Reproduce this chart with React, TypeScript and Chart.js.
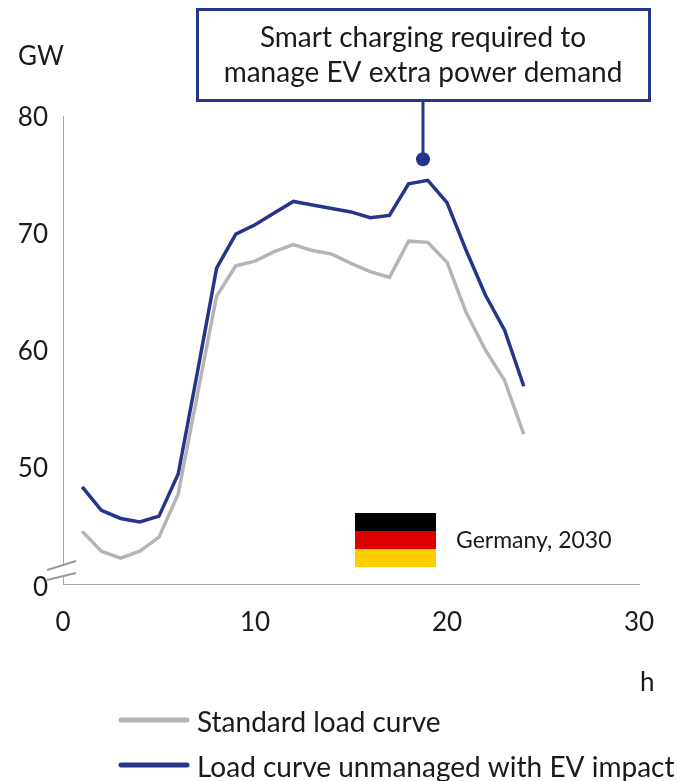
import React, { useEffect, useRef } from "react";
import { Chart, registerables } from "chart.js";

Chart.register(...registerables);

const hours = [1, 2, 3, 4, 5, 6, 7, 8, 9, 10, 11, 12, 13, 14, 15, 16, 17, 18, 19, 20, 21, 22, 23, 24];
const standardLoad = [44.5, 42.8, 42.2, 42.8, 44.0, 47.7, 56.2, 64.6, 67.2, 67.6, 68.4, 69.0, 68.5, 68.2, 67.4, 66.7, 66.2, 69.3, 69.2, 67.5, 63.2, 60.0, 57.4, 52.8];
const evLoad = [48.3, 46.3, 45.6, 45.3, 45.8, 49.4, 58.1, 67.0, 69.9, 70.7, 71.7, 72.7, 72.4, 72.1, 71.8, 71.3, 71.5, 74.2, 74.5, 72.6, 68.5, 64.7, 61.7, 56.9];
const seriesNames = ["Standard load curve", "Load curve unmanaged with EV impact"];
const calloutLines = ["Smart charging required to", "manage EV extra power demand"];
const calloutPoint = { x: 18.75, y: 76.3 };
const flagColors = ["#000000", "#dd0000", "#ffce00"];
const flagCaption = "Germany, 2030";
const yUnit = "GW";
const xUnit = "h";

const NAVY = "#26358a";
const GREY = "#b5b5b5";
const AXIS = "#a6a6a6";
const FONT = "Lato, Carlito, sans-serif";
const TEXT = "#1a1a1a";

const overlay = {
  id: "overlay",
  beforeDraw(chart: any) {
    // Lato sits a little high for its middle baseline: nudge the y labels.
    chart.scales.y.getLabelItems(chart.chartArea).forEach((item: any) => {
      item.options.translation[1] += item.label === "0" ? 4 : 2;
    });
  },
  beforeDatasetsDraw(chart: any) {
    const { ctx } = chart;
    ctx.save();
    ctx.fillStyle = "#ffffff";
    ctx.fillRect(60, 566, 6, 9);
    ctx.strokeStyle = "#9a9a9a";
    ctx.lineWidth = 2;
    ctx.beginPath();
    ctx.moveTo(47, 570);
    ctx.lineTo(76, 561);
    ctx.moveTo(47, 580);
    ctx.lineTo(76, 573);
    ctx.stroke();
    ctx.restore();
  },
  afterDraw(chart: any) {
    const { ctx, scales } = chart;
    ctx.save();
    ctx.textBaseline = "middle";
    ctx.fillStyle = TEXT;

    ctx.font = `26px ${FONT}`;
    ctx.textAlign = "left";
    ctx.fillText(yUnit, 18, 57);
    ctx.fillText(xUnit, 640, 683);

    // callout
    const px = scales.x.getPixelForValue(calloutPoint.x);
    const py = scales.y.getPixelForValue(calloutPoint.y);
    ctx.strokeStyle = NAVY;
    ctx.lineWidth = 3;
    ctx.strokeRect(197.5, 9.5, 452, 91);
    ctx.beginPath();
    ctx.moveTo(px, 100);
    ctx.lineTo(px, py);
    ctx.stroke();
    ctx.fillStyle = NAVY;
    ctx.beginPath();
    ctx.arc(px, py, 7, 0, Math.PI * 2);
    ctx.fill();
    ctx.fillStyle = TEXT;
    ctx.textAlign = "center";
    ctx.font = `28px ${FONT}`;
    calloutLines.forEach((line, i) => ctx.fillText(line, 423, 38 + i * 35));

    // flag
    flagColors.forEach((c, i) => {
      ctx.fillStyle = c;
      ctx.fillRect(355, 513 + i * 18, 81, 18);
    });
    ctx.fillStyle = TEXT;
    ctx.textAlign = "left";
    ctx.font = `23px ${FONT}`;
    ctx.fillText(flagCaption, 456, 541);

    // legend
    ctx.font = `28px ${FONT}`;
    chart.data.datasets.forEach((d: any, i: number) => {
      const y = 721 + i * 45;
      ctx.strokeStyle = d.borderColor;
      ctx.lineWidth = 5;
      ctx.lineCap = "round";
      ctx.beginPath();
      ctx.moveTo(121, y - 1);
      ctx.lineTo(187, y - 1);
      ctx.stroke();
      ctx.fillStyle = TEXT;
      ctx.fillText(d.label, 197, y + 2);
    });
    ctx.restore();
  },
};

export default function App() {
  const ref = useRef<HTMLCanvasElement>(null);
  useEffect(() => {
    const chart = new Chart(ref.current!, {
      type: "line",
      data: {
        datasets: [
          {
            label: seriesNames[0],
            data: hours.map((h, i) => ({ x: h, y: standardLoad[i] })),
            borderColor: GREY,
            borderWidth: 3.5,
            pointRadius: 0,
            tension: 0,
          },
          {
            label: seriesNames[1],
            data: hours.map((h, i) => ({ x: h, y: evLoad[i] })),
            borderColor: NAVY,
            borderWidth: 3.5,
            pointRadius: 0,
            tension: 0,
          },
        ],
      },
      options: {
        responsive: false,
        animation: false,
        layout: { padding: { top: 116, right: 38, left: 0, bottom: 0 } },
        plugins: { legend: { display: false }, tooltip: { enabled: false } },
        scales: {
          x: {
            type: "linear",
            min: 0,
            max: 30,
            grid: { display: false },
            border: { color: AXIS, width: 1 },
            afterFit: (s: any) => { s.height = 197; },
            ticks: {
              stepSize: 10,
              maxRotation: 0,
              padding: 15,
              color: TEXT,
              font: { family: FONT, size: 26 },
            },
          },
          y: {
            type: "linear",
            min: 40,
            max: 80,
            grid: { display: false },
            border: { color: AXIS, width: 1 },
            afterFit: (s: any) => { s.width = 63; },
            ticks: {
              stepSize: 10,
              padding: 7,
              color: TEXT,
              font: { family: FONT, size: 26 },
              callback: (v: any) => (v === 40 ? "0" : String(v)),
            },
          },
        },
      },
      plugins: [overlay],
    } as any);
    return () => chart.destroy();
  }, []);
  return (
    <div style={{ position: "absolute", left: 0, top: 0, width: 677, height: 781, background: "#fff" }}>
      <canvas ref={ref} width={677} height={781} style={{ display: "block" }} />
    </div>
  );
}
